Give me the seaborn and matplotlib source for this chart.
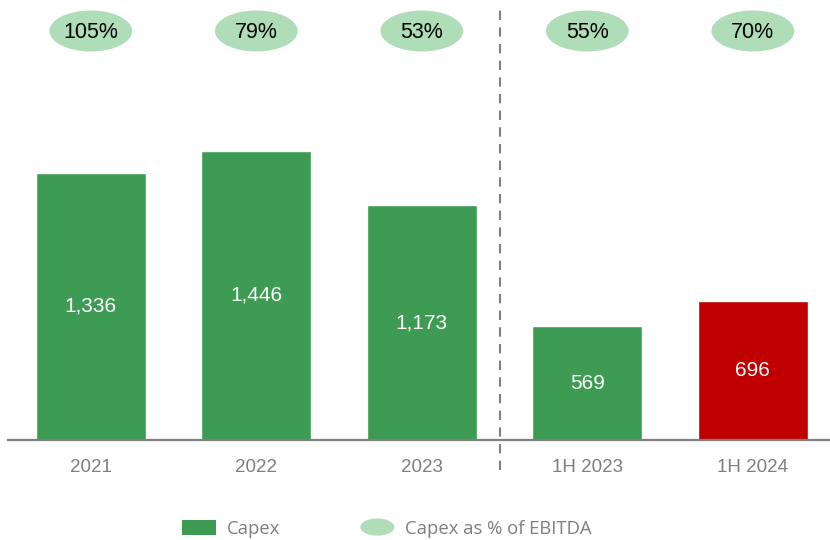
import matplotlib
matplotlib.use("Agg")
import matplotlib.pyplot as plt
import seaborn as sns
import pandas as pd
from matplotlib.patches import Ellipse, Patch
from matplotlib.legend_handler import HandlerPatch

categories = ["2021", "2022", "2023", "1H 2023", "1H 2024"]
capex = [1336, 1446, 1173, 569, 696]
capex_pct_ebitda = [105, 79, 53, 55, 70]
bar_colors = ["#3E9B53", "#3E9B53", "#3E9B53", "#3E9B53", "#C00000"]

GREEN = "#3E9B53"
LIGHT = "#AEDDB8"
GRAY = "#7F7F7F"

sns.set_theme(style="white")
plt.rcParams["font.family"] = ["Liberation Sans", "DejaVu Sans"]

df = pd.DataFrame({"period": categories, "capex": capex})

fig = plt.figure(figsize=(8.3, 5.4), dpi=100)
ax = fig.add_axes([8 / 830, 100 / 540, 822 / 830, 440 / 540])

sns.barplot(data=df, x="period", y="capex", hue="period", palette=bar_colors,
            width=0.665, legend=False, ax=ax, saturation=1)

ax.set_xlim(-0.5, 4.466)
ax.set_ylim(0, 2200)
ax.set_xlabel("")
ax.set_ylabel("")
ax.set_yticks([])
for s in ["top", "left", "right"]:
    ax.spines[s].set_visible(False)
ax.spines["bottom"].set_color(GRAY)
ax.spines["bottom"].set_linewidth(1.6)
ax.tick_params(axis="x", length=0, pad=14, labelsize=13.5, labelcolor=GRAY)

# value labels in bars
for i, v in enumerate(capex):
    ax.text(i, v / 2, f"{v:,}", ha="center", va="center", color="white",
            fontsize=15)

# ellipses with percentages
for i, p in enumerate(capex_pct_ebitda):
    e = Ellipse((i, 2045), width=0.50, height=205, facecolor=LIGHT,
                edgecolor="none", clip_on=False)
    ax.add_patch(e)
    ax.text(i, 2035, f"{p}%", ha="center", va="center", color="black",
            fontsize=15.5)

# dashed separator
ax.plot([2.47, 2.47], [-150, 2150], color=GRAY, linestyle=(0, (4.5, 3.5)),
        linewidth=1.5, clip_on=False)


class HandlerEllipse(HandlerPatch):
    def create_artists(self, legend, orig_handle, xdescent, ydescent,
                       width, height, fontsize, trans):
        center = 0.5 * width - 0.5 * xdescent, 0.5 * height - 0.5 * ydescent
        p = Ellipse(xy=center, width=width, height=height * 1.15)
        self.update_prop(p, orig_handle, legend)
        p.set_transform(trans)
        return [p]


h1 = Patch(facecolor=GREEN, edgecolor="none", label="Capex")
h2 = Ellipse((0, 0), 1, 1, facecolor=LIGHT, edgecolor="none",
             label="Capex as % of EBITDA")
fs = 13.3
fpx = fs * 100 / 72
leg = fig.legend(handles=[h1, h2], labels=["Capex", "Capex as % of EBITDA"],
                 handler_map={Ellipse: HandlerEllipse()},
                 loc="center", bbox_to_anchor=(387 / 830, 11 / 540),
                 ncol=2, frameon=False,
                 handlelength=34 / fpx, handleheight=16 / fpx,
                 handletextpad=11 / fpx, columnspacing=80 / fpx,
                 prop={"family": ["Open Sans", "DejaVu Sans"], "size": fs})
for t in leg.get_texts():
    t.set_color(GRAY)

fig.savefig("out.png", dpi=100)
